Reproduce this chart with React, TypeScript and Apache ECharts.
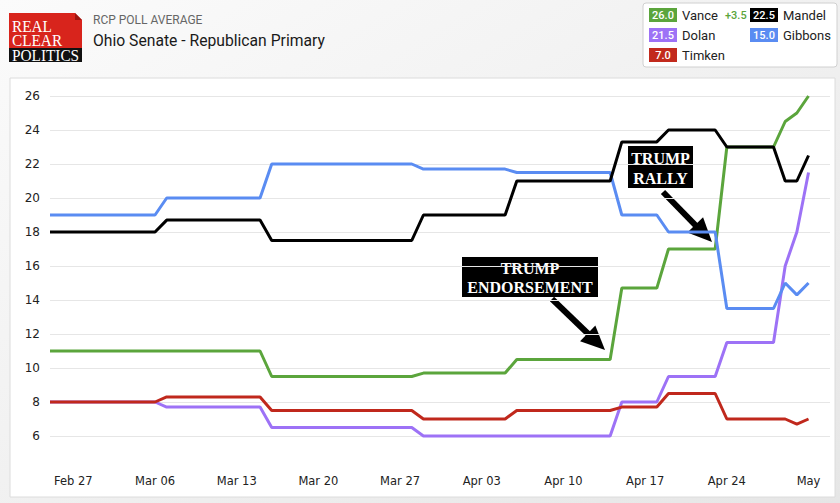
import React, { useEffect, useRef } from "react";
import * as echarts from "echarts";

// Day index counted from Feb 25
const tickDays = [2, 9, 16, 23, 30, 37, 44, 51, 58, 65];
const tickLabels = ["Feb 27", "Mar 06", "Mar 13", "Mar 20", "Mar 27", "Apr 03", "Apr 10", "Apr 17", "Apr 24", "May"];

const gibbonsData: [number, number][] = [
  [0, 19], [9, 19], [10, 20], [18, 20], [19, 22], [31, 22], [32, 21.7], [39, 21.7], [40, 21.5],
  [48, 21.5], [49, 19], [52, 19], [53, 18], [57, 18], [58, 13.5], [62, 13.5], [63, 15], [64, 14.3], [65, 15],
];
const mandelData: [number, number][] = [
  [0, 18], [9, 18], [10, 18.7], [18, 18.7], [19, 17.5], [31, 17.5], [32, 19], [39, 19], [40, 21],
  [48, 21], [49, 23.3], [52, 23.3], [53, 24], [57, 24], [58, 23], [62, 23], [63, 21], [64, 21], [65, 22.5],
];
const vanceData: [number, number][] = [
  [0, 11], [18, 11], [19, 9.5], [31, 9.5], [32, 9.7], [39, 9.7], [40, 10.5], [48, 10.5], [49, 14.7],
  [52, 14.7], [53, 17], [57, 17], [58, 23], [62, 23], [63, 24.5], [64, 25], [65, 26],
];
const dolanData: [number, number][] = [
  [0, 8], [9, 8], [10, 7.7], [18, 7.7], [19, 6.5], [31, 6.5], [32, 6], [48, 6], [49, 8], [52, 8],
  [53, 9.5], [57, 9.5], [58, 11.5], [62, 11.5], [63, 16], [64, 18], [65, 21.5],
];
const timkenData: [number, number][] = [
  [0, 8], [9, 8], [10, 8.3], [18, 8.3], [19, 7.5], [31, 7.5], [32, 7], [39, 7], [40, 7.5], [48, 7.5],
  [49, 7.7], [52, 7.7], [53, 8.5], [57, 8.5], [58, 7], [63, 7], [64, 6.7], [65, 7],
];

const legendNames = ["Vance", "Mandel", "Dolan", "Gibbons", "Timken"];
const legendValues = ["26.0", "22.5", "21.5", "15.0", "7.0"];
const legendColors = ["#5ba53c", "#000000", "#9d72f6", "#5a8cf2", "#c22a1d"];
const vanceChange = "+3.5";

const GREEN = "#5ba53c";
const BLACK = "#000000";
const PURPLE = "#9d72f6";
const BLUE = "#5a8cf2";
const RED = "#c0281c";

function legendGraphic() {
  const els: any[] = [
    { type: "rect", shape: { x: 643, y: 3, width: 194, height: 64, r: 3 }, style: { fill: "#fff", stroke: "#d0d0d0", lineWidth: 1 } },
  ];
  const pos = [
    [649, 15], [750, 15], [649, 35], [750, 35], [649, 55],
  ];
  legendNames.forEach((n, i) => {
    const [x, y] = pos[i];
    els.push({ type: "rect", shape: { x, y: y - 7, width: 28, height: 14 }, style: { fill: legendColors[i] } });
    els.push({ type: "text", style: { text: legendValues[i], x: x + 14, y, fill: "#fff", font: "500 11px Roboto", textAlign: "center", textVerticalAlign: "middle" } });
    els.push({ type: "text", style: { text: n, x: x + 33, y, fill: "#222", font: "13px Roboto", textAlign: "left", textVerticalAlign: "middle" } });
  });
  els.push({ type: "text", style: { text: vanceChange, x: 725, y: 15, fill: GREEN, font: "500 11px Roboto", textAlign: "left", textVerticalAlign: "middle" } });
  return els;
}

function arrow(x1: number, y1: number, tx: number, ty: number) {
  const dx = tx - x1, dy = ty - y1;
  const len = Math.sqrt(dx * dx + dy * dy);
  const ux = dx / len, uy = dy / len;
  const hl = 24, hw = 11;
  const bx = tx - ux * hl, by = ty - uy * hl;
  const px = -uy * hw, py = ux * hw;
  return [
    { type: "line", shape: { x1, y1, x2: bx + ux * 2, y2: by + uy * 2 }, style: { stroke: "#000", lineWidth: 6 } },
    { type: "polygon", shape: { points: [[tx, ty], [bx + px, by + py], [bx - px, by - py]] }, style: { fill: "#000" } },
  ];
}

export default function App() {
  const ref = useRef<HTMLDivElement>(null);
  useEffect(() => {
    if (!ref.current) return;
    const chart = echarts.init(ref.current, null, { renderer: "svg" });
    const lineSeries = (name: string, data: [number, number][], color: string, z: number) => ({
      type: "line",
      name,
      data,
      symbol: "none",
      clip: false,
      z,
      lineStyle: { color, width: 3 },
      itemStyle: { color },
    });
    const serifBold = "bold 16px 'Liberation Serif'";
    const logoFont = "17px 'Liberation Serif'";
    chart.setOption({
      animation: false,
      backgroundColor: {
        type: "linear", x: 0, y: 0, x2: 1, y2: 1,
        colorStops: [{ offset: 0, color: "#fbfbfb" }, { offset: 1, color: "#e6e6e6" }],
      },
      grid: { left: 50, right: 10, top: 96, bottom: 67 },
      xAxis: {
        type: "value",
        min: 0,
        max: 66.84,
        axisLine: { show: false },
        axisTick: { show: false },
        splitLine: { show: false },
        axisLabel: {
          customValues: tickDays,
          formatter: (v: number) => tickLabels[tickDays.indexOf(Math.round(v))] ?? "",
          margin: 39,
          color: "#222",
          fontSize: 11.5,
          fontFamily: "DejaVu Sans",
        },
      },
      yAxis: {
        type: "value",
        min: 6,
        max: 26,
        interval: 2,
        axisLine: { show: false },
        axisTick: { show: false },
        splitLine: { lineStyle: { color: "#e6e6e6", width: 1 } },
        axisLabel: { margin: 10, color: "#222", fontSize: 12, fontFamily: "DejaVu Sans" },
      },
      series: [
        lineSeries("Dolan", dolanData, PURPLE, 2),
        lineSeries("Timken", timkenData, RED, 3),
        lineSeries("Vance", vanceData, GREEN, 4),
        lineSeries("Gibbons", gibbonsData, BLUE, 5),
        lineSeries("Mandel", mandelData, BLACK, 6),
      ],
      graphic: [
        {
          type: "group",
          z: -10,
          silent: true,
          children: [
            { type: "rect", shape: { x: 10, y: 78, width: 825, height: 419 }, style: { fill: "#ffffff", stroke: "#dcdcdc", lineWidth: 1 } },
          ],
        },
        {
          type: "group",
          silent: true,
          children: [
            // logo
            { type: "polygon", shape: { points: [[9, 13], [75, 13], [82, 20], [82, 48], [9, 48]] }, style: { fill: "#d8241c" } },
            { type: "polygon", shape: { points: [[75, 13], [75, 20], [82, 20]] }, style: { fill: "#9e1510" } },
            { type: "rect", shape: { x: 9, y: 48, width: 73, height: 14 }, style: { fill: "#111" } },
            {
              type: "group", x: 12, y: 0, scaleX: 0.9, scaleY: 1,
              children: [
                { type: "text", style: { text: "REAL", x: 0, y: 26, fill: "#fff", font: logoFont, textVerticalAlign: "middle" } },
                { type: "text", style: { text: "CLEAR", x: 0, y: 40.5, fill: "#fff", font: logoFont, textVerticalAlign: "middle" } },
                { type: "text", style: { text: "POLITICS", x: 0, y: 55.5, fill: "#fff", font: logoFont, textVerticalAlign: "middle" } },
              ],
            },
            // titles
            { type: "text", style: { text: "RCP POLL AVERAGE", x: 93, y: 20, fill: "#666", font: "12px Roboto", textVerticalAlign: "middle" } },
            { type: "text", style: { text: "Ohio Senate - Republican Primary", x: 93, y: 40, fill: "#1a1a1a", font: "15.7px Roboto", textVerticalAlign: "middle" } },
            ...legendGraphic(),
            // annotations
            { type: "rect", shape: { x: 462, y: 257, width: 136, height: 40 }, style: { fill: "#000" } },
            { type: "text", style: { text: "TRUMP", x: 530, y: 268, fill: "#fff", font: serifBold, textAlign: "center", textVerticalAlign: "middle" } },
            { type: "text", style: { text: "ENDORSEMENT", x: 530, y: 287, fill: "#fff", font: serifBold, textAlign: "center", textVerticalAlign: "middle" } },
            ...arrow(552, 299, 605, 350),
            { type: "rect", shape: { x: 628, y: 146, width: 65, height: 42 }, style: { fill: "#000" } },
            { type: "text", style: { text: "TRUMP", x: 660.5, y: 158, fill: "#fff", font: serifBold, textAlign: "center", textVerticalAlign: "middle" } },
            { type: "text", style: { text: "RALLY", x: 660.5, y: 178, fill: "#fff", font: serifBold, textAlign: "center", textVerticalAlign: "middle" } },
            ...arrow(663, 192, 712, 242),
          ],
        },
      ],
    });
    return () => chart.dispose();
  }, []);
  return <div ref={ref} style={{ position: "fixed", left: 0, top: 0, width: 840, height: 503 }} />;
}
